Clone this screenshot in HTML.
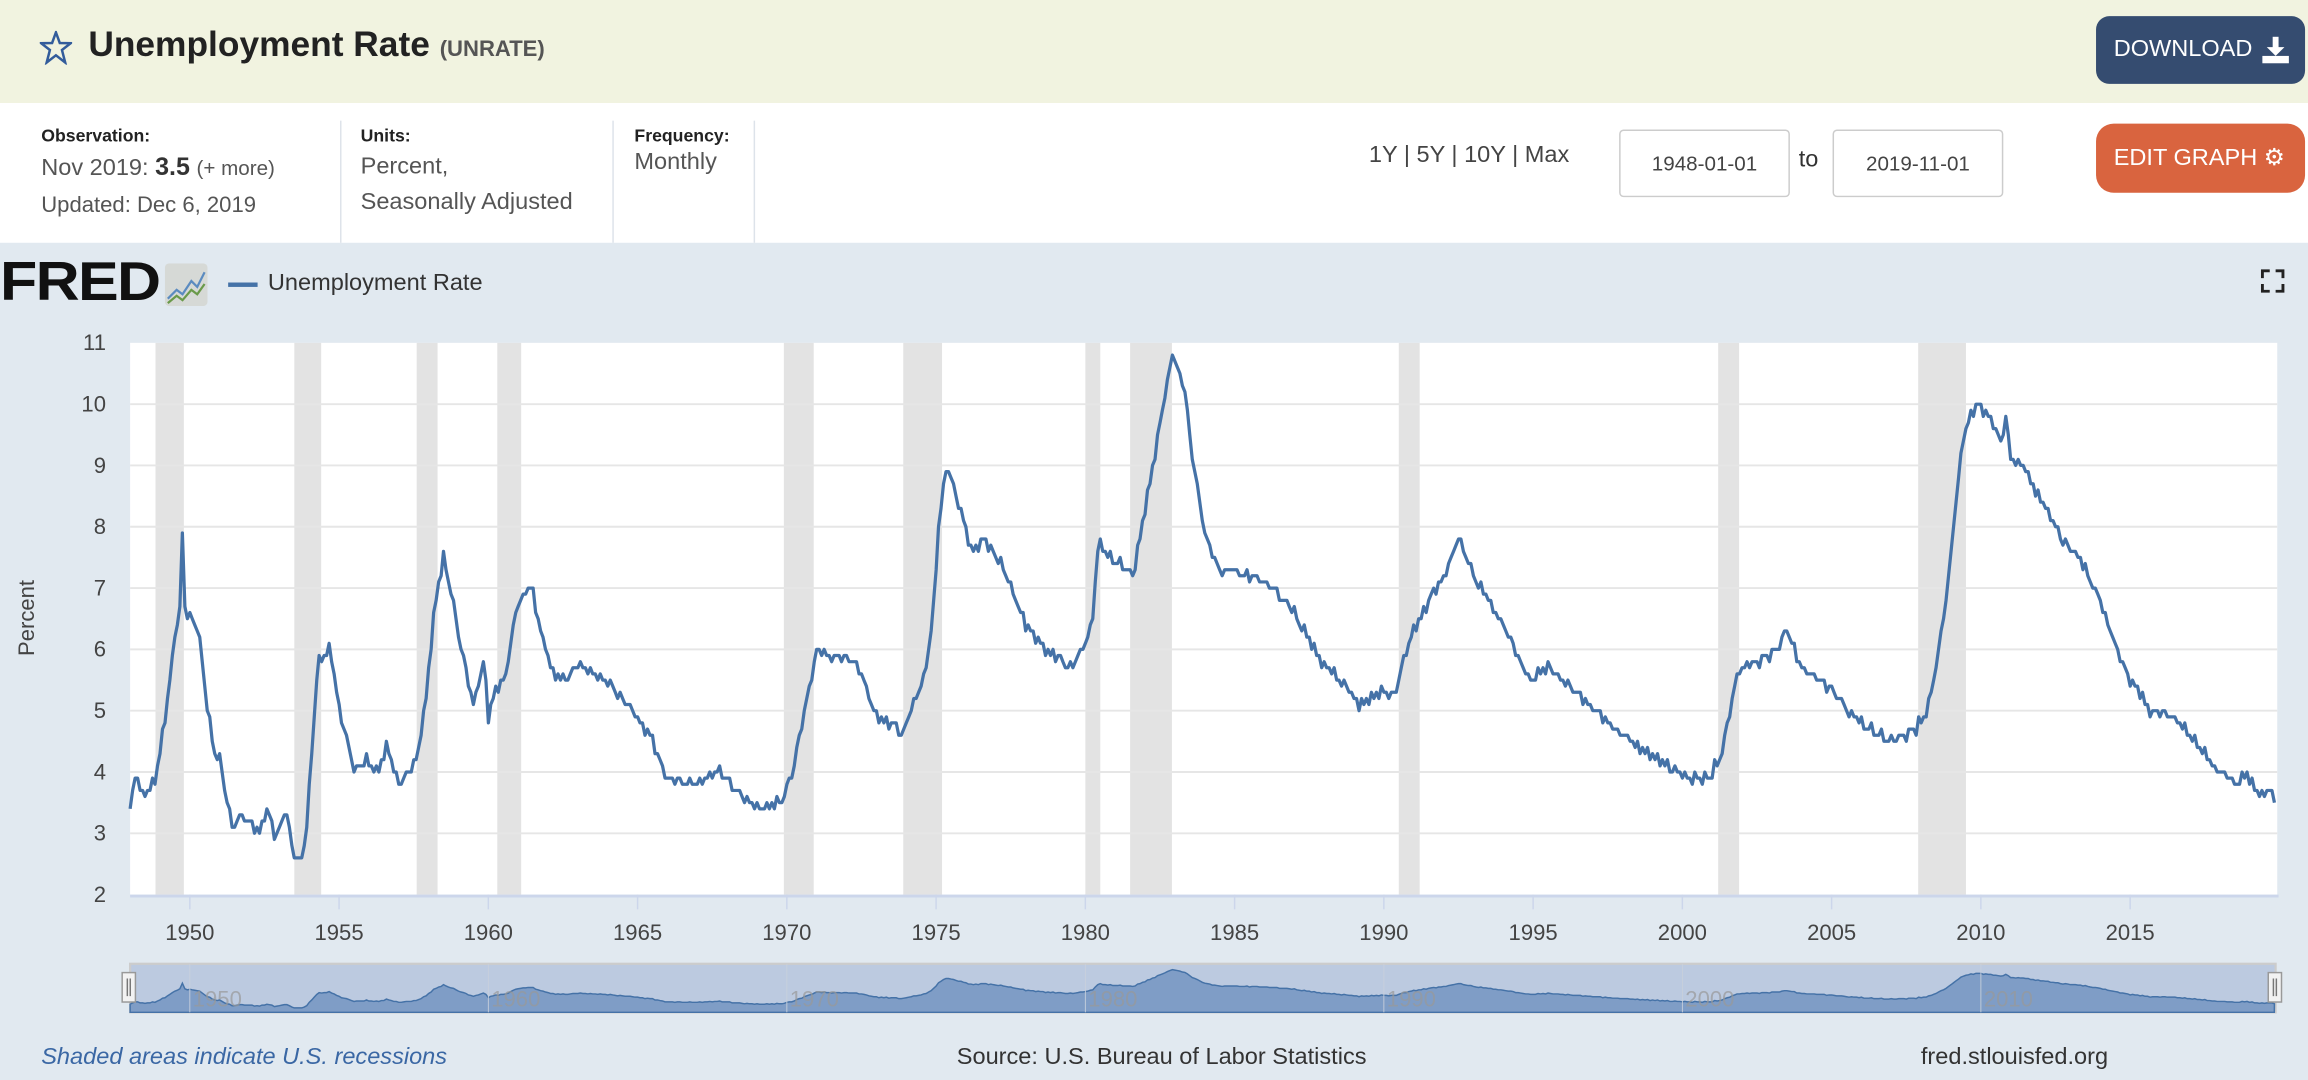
<!DOCTYPE html>
<html><head><meta charset="utf-8"><style>
html,body{margin:0;padding:0;width:2308px;height:1080px;overflow:hidden;background:#e1e9f0;}
#w{position:absolute;left:0;top:0;width:1568px;height:734px;transform:scale(1.47194,1.4714);transform-origin:0 0;font-family:"Liberation Sans",sans-serif;background:#e1e9f0;}
.a{position:absolute;white-space:nowrap;}
</style></head><body><div id="w">
<div class="a" style="left:0;top:0;width:1568px;height:70px;background:#f1f3e0"></div>
<div class="a" style="left:0;top:70px;width:1568px;height:95px;background:#fff"></div>
<svg class="a" style="left:27px;top:21px" width="22" height="23" viewBox="0 0 22 23"><polygon points="11,1 13.6,8.2 21,8.4 15.1,13 17.3,21.5 11,16.6 4.7,21.5 6.9,13 1,8.4 8.4,8.2" fill="none" stroke="#335c9b" stroke-width="1.7"/></svg>
<div class="a" style="left:60px;top:17px;font-size:24px;font-weight:bold;color:#222">Unemployment Rate <span style="font-size:15px;color:#555">(UNRATE)</span></div>
<div class="a" style="left:1424px;top:11px;width:142px;height:46px;background:#354c70;border-radius:9px;color:#fff;font-size:16px;line-height:46px;text-indent:12px">DOWNLOAD</div>
<svg class="a" style="left:1536px;top:24px" width="20" height="20"><rect x="8" y="1" width="4" height="8" fill="#fff"/><polygon points="4,8 16,8 10,14" fill="#fff"/><rect x="1" y="14" width="18" height="5" fill="#fff"/></svg>
<div class="a" style="left:28px;top:85px;font-size:12px;font-weight:bold;color:#222">Observation:</div>
<div class="a" style="left:28px;top:104px;font-size:16px;color:#555">Nov 2019: <b style="color:#333;font-size:17px">3.5</b> <span style="font-size:14px">(+ more)</span></div>
<div class="a" style="left:28px;top:131px;font-size:15px;color:#555">Updated: Dec 6, 2019</div>
<div class="a" style="left:231px;top:82px;width:1px;height:83px;background:#dde3ea"></div>
<div class="a" style="left:416px;top:82px;width:1px;height:83px;background:#dde3ea"></div>
<div class="a" style="left:512px;top:82px;width:1px;height:83px;background:#dde3ea"></div>
<div class="a" style="left:245px;top:85px;font-size:12px;font-weight:bold;color:#222">Units:</div>
<div class="a" style="left:245px;top:102px;font-size:16px;color:#555;line-height:24px">Percent,<br>Seasonally Adjusted</div>
<div class="a" style="left:431px;top:85px;font-size:12px;font-weight:bold;color:#222">Frequency:</div>
<div class="a" style="left:431px;top:102px;font-size:16px;color:#555">Monthly</div>
<div class="a" style="left:930px;top:97px;font-size:16px;color:#444">1Y | 5Y | 10Y | Max</div>
<div class="a" style="left:1100px;top:88px;width:114px;height:44px;border:1px solid #ccc;border-radius:3px;background:#fff;font-size:14px;color:#444;line-height:44px;text-align:center">1948-01-01</div>
<div class="a" style="left:1222px;top:100px;font-size:16px;color:#333">to</div>
<div class="a" style="left:1245px;top:88px;width:114px;height:44px;border:1px solid #ccc;border-radius:3px;background:#fff;font-size:14px;color:#444;line-height:44px;text-align:center">2019-11-01</div>
<div class="a" style="left:1424px;top:84px;width:142px;height:47px;background:#d9643f;border-radius:12px;color:#fff;font-size:16px;line-height:47px;text-indent:12px">EDIT GRAPH &#x2699;</div>
<div class="a" style="left:0;top:171px;font-size:37px;font-weight:900;color:#111;letter-spacing:-1px;transform:scale(1.12,1);transform-origin:0 0">FRED</div>
<svg class="a" style="left:112px;top:179px" width="29" height="29"><rect width="29" height="29" rx="3" fill="#d6d9d6"/><polyline points="2,24 8,18 12,21 18,12 22,16 27,6" fill="none" stroke="#5b8bc0" stroke-width="1.5"/><polyline points="2,27 8,22 12,25 18,18 22,21 27,14" fill="none" stroke="#6a9a4a" stroke-width="1.5"/></svg>
<div class="a" style="left:155px;top:192px;width:20px;height:3px;background:#4572a7"></div>
<div class="a" style="left:182px;top:184px;font-size:16px;color:#333">Unemployment Rate</div>
<svg class="a" style="left:1536px;top:183px" width="16" height="16"><path d="M1 6V1H6M10 1H15V6M15 10V15H10M6 15H1V10" fill="none" stroke="#222" stroke-width="2"/></svg>
<svg class="a" id="ch" style="left:0;top:0" width="1568" height="734"></svg>
<div class="a" style="left:28px;top:710px;font-size:16px;font-style:italic;color:#3a67a4">Shaded areas indicate U.S. recessions</div>
<div class="a" style="left:650px;top:710px;font-size:16px;color:#333">Source: U.S. Bureau of Labor Statistics</div>
<div class="a" style="left:1305px;top:710px;font-size:16px;color:#333">fred.stlouisfed.org</div>
</div>
<script>
var K=[[1948,3.4],[1948.2,4.0],[1948.4,3.6],[1948.8,3.8],[1949.0,4.3],[1949.2,5.0],[1949.5,6.2],[1949.7,6.8],[1949.75,7.9],[1949.85,6.5],[1950.0,6.6],[1950.3,6.3],[1950.5,5.4],[1950.8,4.3],[1951.0,4.2],[1951.4,3.1],[1951.8,3.3],[1952.3,3.0],[1952.6,3.4],[1952.9,2.9],[1953.2,3.4],[1953.5,2.6],[1953.7,2.5],[1953.9,3.0],[1954.1,4.5],[1954.3,5.8],[1954.6,5.9],[1954.7,6.1],[1955.0,5.0],[1955.3,4.5],[1955.5,4.0],[1955.9,4.2],[1956.3,4.0],[1956.6,4.4],[1957.0,3.8],[1957.6,4.2],[1957.9,5.1],[1958.2,6.7],[1958.5,7.5],[1958.8,6.8],[1959.1,6.0],[1959.5,5.1],[1959.85,5.8],[1960.0,4.9],[1960.3,5.4],[1960.6,5.6],[1960.9,6.6],[1961.4,7.1],[1961.8,6.2],[1962.2,5.6],[1962.6,5.5],[1963.0,5.8],[1963.5,5.6],[1964.0,5.5],[1964.8,5.0],[1965.5,4.5],[1966.0,3.9],[1967.0,3.8],[1967.8,4.0],[1968.5,3.6],[1969.0,3.4],[1969.8,3.5],[1970.2,4.0],[1970.6,5.0],[1971.0,6.0],[1971.5,5.9],[1972.0,5.9],[1972.5,5.6],[1973.0,4.9],[1973.5,4.8],[1973.9,4.6],[1974.2,5.1],[1974.6,5.5],[1974.9,6.6],[1975.1,8.1],[1975.35,9.0],[1975.8,8.3],[1976.2,7.6],[1976.6,7.8],[1977.2,7.4],[1978.0,6.4],[1978.6,6.0],[1979.0,5.9],[1979.5,5.7],[1979.9,6.0],[1980.2,6.3],[1980.45,7.8],[1980.8,7.5],[1981.2,7.4],[1981.6,7.2],[1981.9,8.0],[1982.4,9.4],[1982.9,10.8],[1983.3,10.3],[1983.5,9.5],[1983.7,8.8],[1984.0,7.9],[1984.5,7.3],[1985.0,7.3],[1986.0,7.1],[1986.5,6.9],[1987.0,6.6],[1987.9,5.8],[1988.5,5.5],[1989.2,5.1],[1989.9,5.3],[1990.4,5.3],[1990.7,5.9],[1991.0,6.3],[1991.6,6.9],[1992.0,7.2],[1992.5,7.8],[1993.0,7.2],[1993.9,6.5],[1994.9,5.5],[1995.5,5.7],[1996.5,5.3],[1997.5,4.8],[1998.5,4.4],[1999.9,4.0],[2000.3,3.9],[2000.9,3.9],[2001.3,4.3],[2001.9,5.7],[2002.5,5.8],[2003.0,5.9],[2003.5,6.3],[2004.0,5.7],[2004.9,5.4],[2005.5,5.0],[2006.5,4.6],[2007.1,4.5],[2007.8,4.7],[2008.2,5.0],[2008.6,6.0],[2008.95,7.3],[2009.2,8.6],[2009.4,9.4],[2009.8,10.0],[2010.3,9.8],[2010.7,9.4],[2010.85,9.8],[2011.0,9.1],[2011.4,9.0],[2011.9,8.5],[2012.3,8.2],[2012.7,7.8],[2013.3,7.5],[2013.9,6.9],[2014.4,6.2],[2014.9,5.6],[2015.7,5.0],[2016.5,4.9],[2017.3,4.4],[2017.8,4.1],[2018.6,3.8],[2018.9,4.0],[2019.3,3.6],[2019.7,3.7],[2019.83,3.5]];
function val(t){for(var i=1;i<K.length;i++){if(t<=K[i][0]){var a=K[i-1],b=K[i];return a[1]+(b[1]-a[1])*(t-a[0])/(b[0]-a[0]);}}return 3.5;}
var L=88.4,PX=20.28,T=233,B=608;
function X(y){return L+(y-1948)*PX;}
function Y(v){return B-(v-2)*(B-T)/9;}
var s='';
s+='<rect x="'+L+'" y="'+T+'" width="'+(X(2019.83)-L+2)+'" height="'+(B-T)+'" fill="#fff"/>';
var R=[[1948.85,1949.8],[1953.5,1954.4],[1957.6,1958.3],[1960.3,1961.1],[1969.9,1970.9],[1973.9,1975.2],[1980.0,1980.5],[1981.5,1982.9],[1990.5,1991.2],[2001.2,2001.9],[2007.9,2009.5]];
R.forEach(function(r){s+='<rect x="'+X(r[0])+'" y="'+T+'" width="'+(r[1]-r[0])*PX+'" height="'+(B-T)+'" fill="#e3e3e3"/>';});
for(var v=3;v<=10;v++)s+='<line x1="'+L+'" x2="'+(X(2019.83)+2)+'" y1="'+Y(v)+'" y2="'+Y(v)+'" stroke="#e6e6e6" stroke-width="1.3"/>';
for(var v=2;v<=11;v++)s+='<text x="72" y="'+(Y(v)+5)+'" text-anchor="end" font-size="15" fill="#444" font-family="Liberation Sans">'+v+'</text>';
s+='<line x1="'+L+'" x2="1548" y1="'+(B+1)+'" y2="'+(B+1)+'" stroke="#ccd6eb" stroke-width="2"/>';
for(var yr=1950;yr<=2015;yr+=5){var x=X(yr);s+='<line x1="'+x+'" x2="'+x+'" y1="'+B+'" y2="'+(B+10)+'" stroke="#ccd6eb"/><text x="'+x+'" y="639" text-anchor="middle" font-size="15" fill="#444" font-family="Liberation Sans">'+yr+'</text>';}
s+='<text transform="translate(23,420) rotate(-90)" text-anchor="middle" font-size="15" fill="#444" font-family="Liberation Sans">Percent</text>';
var p='',pts=[];
for(var m=0;m<=862;m++){var t=1948+m/12;var v=val(t)+0.09*Math.sin(m*2.3)*Math.cos(m*0.7);v=Math.round(v*10)/10;pts.push([t,v]);p+=(m?'L':'M')+X(t).toFixed(1)+' '+Y(v).toFixed(1);}
s+='<path d="'+p+'" fill="none" stroke="#4572a7" stroke-width="2.2" stroke-linejoin="round"/>';
var NT=655,NB=688;
s+='<rect x="'+L+'" y="'+NT+'" width="'+(1546-L)+'" height="'+(NB-NT)+'" fill="#bccae0" stroke="#ccc" stroke-width="1.5"/>';
function NY(v){return NB-2-(v-2.3)*(NB-NT-6)/(10.8-2.3);}
var np='M'+X(1948)+' '+NB;pts.forEach(function(q){np+='L'+X(q[0]).toFixed(1)+' '+NY(q[1]).toFixed(1);});np+='L'+X(2019.83)+' '+NB+'Z';
s+='<path d="'+np+'" fill="#7f9dc6" stroke="#4572a7" stroke-width="1"/>';
[1950,1960,1970,1980,1990,2000,2010].forEach(function(yr){var x=X(yr);s+='<line x1="'+x+'" x2="'+x+'" y1="'+NT+'" y2="'+NB+'" stroke="#c8d0dc" stroke-width="0.6"/><text x="'+(x+2)+'" y="684" font-size="15" fill="#999" fill-opacity="0.7" font-family="Liberation Sans">'+yr+'</text>';});
s+='<rect x="83" y="661" width="9" height="20" fill="#f2f2f2" stroke="#999"/><rect x="1541" y="661" width="9" height="20" fill="#f2f2f2" stroke="#999"/>';
s+='<line x1="86.5" x2="86.5" y1="665" y2="677" stroke="#777"/><line x1="88.5" x2="88.5" y1="665" y2="677" stroke="#777"/><line x1="1544.5" x2="1544.5" y1="665" y2="677" stroke="#777"/><line x1="1546.5" x2="1546.5" y1="665" y2="677" stroke="#777"/>';
document.getElementById('ch').innerHTML=s;
</script>
</body></html>
